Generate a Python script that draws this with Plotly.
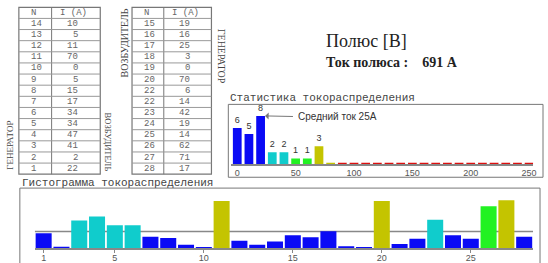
import plotly.graph_objects as go
import numpy as np

W, H = 548, 263

# ---------------- data ----------------
n_left = ["14", "13", "12", "11", "10", "9", "8", "7", "6", "5", "4", "3", "2", "1"]
i_left = [10, 5, 11, 70, 0, 5, 15, 17, 34, 34, 47, 41, 2, 22]
n_right = ["15", "16", "17", "18", "19", "20", "22", "22", "23", "24", "25", "26", "27", "28"]
i_right = [19, 16, 25, 3, 0, 70, 6, 14, 42, 19, 14, 62, 71, 17]

pole_numbers = list(range(1, 29))
pole_currents = i_left[::-1] + i_right

stat_bins = list(range(0, 260, 10))
stat_counts = [6, 5, 8, 2, 2, 1, 1, 3] + [0] * 18

hist_ticks = [1, 5, 10, 15, 20, 25]
stat_ticks = [0, 50, 100, 150, 200, 250]

title_text = "Полюс [B]"
current_label = "Ток полюса :"
stat_title = "Статистика токораспределения"
hist_title = "Гистограмма токораспределения"
mean_label = "Средний ток 25A"


def color_for(v):
    if v < 30:
        return "#0a0af5"
    if v < 50:
        return "#10cccc"
    if v < 70:
        return "#22f222"
    if v < 90:
        return "#c4c400"
    return "#dd1010"


def px(x):
    return x / W


def py(y):
    return 1 - y / H


fig = go.Figure()

# bottom histogram
fig.add_trace(go.Bar(
    x=pole_numbers,
    y=[max(v, 1.2) for v in pole_currents],
    width=0.9,
    marker=dict(color=[color_for(v) for v in pole_currents], line=dict(width=0)),
    xaxis="x", yaxis="y", hoverinfo="skip",
))

# statistics chart
fig.add_trace(go.Bar(
    x=stat_bins,
    y=[max(c, 0.3) for c in stat_counts],
    width=7.5,
    marker=dict(color=[color_for(b) for b in stat_bins], line=dict(width=0)),
    text=[str(c) if c else "" for c in stat_counts],
    textposition="outside",
    textfont=dict(size=9, color="#333", family="Liberation Sans"),
    cliponaxis=False,
    xaxis="x2", yaxis="y2", hoverinfo="skip",
))

axis_font = dict(size=9, color="#555", family="Liberation Sans")

fig.update_layout(
    width=W, height=H,
    margin=dict(l=0, r=0, t=0, b=0),
    paper_bgcolor="white", plot_bgcolor="white",
    showlegend=False,
    xaxis=dict(domain=[px(35), px(537)], range=[0.5, 28.5], tickvals=hist_ticks,
               showline=True, linecolor="#888", linewidth=1.5, ticks="outside",
               ticklen=3, tickcolor="#888", tickfont=axis_font, showgrid=False,
               ticklabelstandoff=-3,
               zeroline=False, anchor="y"),
    yaxis=dict(domain=[py(252), py(192)], range=[0, 87.5], visible=False,
               showgrid=False, zeroline=False, anchor="x"),
    xaxis2=dict(domain=[px(233), px(537)], range=[-5.1, 253.4], tickvals=stat_ticks,
                showline=True, linecolor="#888", linewidth=1.5, ticks="",
                ticklabelstandoff=-1,
                tickfont=axis_font, showgrid=False, zeroline=False, anchor="y2"),
    yaxis2=dict(domain=[py(167), py(106)], range=[0, 9.9], visible=False,
                showgrid=False, zeroline=False, anchor="x2"),
)

shapes = []
annotations = []

# mean line in histogram
mean_val = float(np.mean(pole_currents))
shapes.append(dict(type="line", xref="x", yref="y", x0=0.5, x1=28.5,
                   y0=mean_val, y1=mean_val, layer="below",
                   line=dict(color="#888", width=1.5)))

# chart boxes
shapes.append(dict(type="rect", xref="paper", yref="paper",
                   x0=px(230), x1=px(547), y0=py(180), y1=py(106),
                   line=dict(color="#777", width=1), layer="below"))
shapes.append(dict(type="rect", xref="paper", yref="paper",
                   x0=px(20), x1=px(544), y0=py(275), y1=py(191),
                   line=dict(color="#777", width=1), layer="below"))


def draw_table(x0, xdiv, x1, top, rowh, n_labels, i_values):
    nrows = len(n_labels) + 1
    bottom = top + rowh * nrows
    shapes.append(dict(type="rect", xref="paper", yref="paper",
                       x0=px(x0), x1=px(x1), y0=py(bottom), y1=py(top),
                       line=dict(color="#777", width=1.2)))
    shapes.append(dict(type="line", xref="paper", yref="paper",
                       x0=px(xdiv), x1=px(xdiv), y0=py(bottom), y1=py(top),
                       line=dict(color="#777", width=1)))
    for r in range(1, nrows):
        yy = top + r * rowh
        shapes.append(dict(type="line", xref="paper", yref="paper",
                           x0=px(x0), x1=px(x1), y0=py(yy), y1=py(yy),
                           line=dict(color="#999", width=1)))
    tf = dict(size=9, color="#666", family="Liberation Mono")
    rows = [("N", "I (A)")] + [(n, str(v)) for n, v in zip(n_labels, i_values)]
    for r, (a, b) in enumerate(rows):
        yc = top + (r + 0.5) * rowh
        annotations.append(dict(x=px(x0 + 10), y=py(yc), xref="paper", yref="paper",
                                text=a, showarrow=False, xanchor="left",
                                yanchor="middle", font=tf))
        if r == 0:
            annotations.append(dict(x=px((xdiv + x1) / 2 - 2), y=py(yc), xref="paper",
                                    yref="paper", text=b, showarrow=False,
                                    xanchor="center", yanchor="middle", font=tf))
        else:
            annotations.append(dict(x=px(x1 - 20), y=py(yc), xref="paper", yref="paper",
                                    text=b, showarrow=False, xanchor="right",
                                    yanchor="middle", font=tf))


draw_table(19, 52, 101, 7.4, 11.3, n_left, i_left)
draw_table(133, 165, 213, 7.4, 11.3, n_right, i_right)

serif = "Liberation Serif"
# rotated side labels
annotations.append(dict(x=px(10), y=py(147), xref="paper", yref="paper", text="ГЕНЕРАТОР",
                        textangle=-90, showarrow=False, xanchor="center", yanchor="middle",
                        font=dict(size=9, color="#444", family=serif)))
annotations.append(dict(x=px(109), y=py(144), xref="paper", yref="paper", text="ВОЗБУДИТЕЛЬ",
                        textangle=90, showarrow=False, xanchor="center", yanchor="middle",
                        font=dict(size=8.5, color="#444", family=serif)))
annotations.append(dict(x=px(125), y=py(44), xref="paper", yref="paper", text="ВОЗБУДИТЕЛЬ",
                        textangle=-90, showarrow=False, xanchor="center", yanchor="middle",
                        font=dict(size=10, color="#444", family=serif)))
annotations.append(dict(x=px(223), y=py(57), xref="paper", yref="paper", text="ГЕНЕРАТОР",
                        textangle=90, showarrow=False, xanchor="center", yanchor="middle",
                        font=dict(size=10, color="#444", family=serif)))

# titles
annotations.append(dict(x=px(326), y=py(42), xref="paper", yref="paper", text=title_text,
                        showarrow=False, xanchor="left", yanchor="middle",
                        font=dict(size=18, color="#222", family=serif)))
annotations.append(dict(x=px(326), y=py(63), xref="paper", yref="paper",
                        text=f"<b>{current_label}</b>&nbsp;&nbsp;&nbsp;&nbsp;<b>{sum(pole_currents)} A</b>",
                        showarrow=False, xanchor="left", yanchor="middle",
                        font=dict(size=14, color="#222", family=serif)))
annotations.append(dict(x=px(230), y=py(100), xref="paper", yref="paper", text=stat_title,
                        showarrow=False, xanchor="left", yanchor="middle",
                        font=dict(size=11, color="#444", family="Liberation Mono")))
annotations.append(dict(x=px(20), y=py(186), xref="paper", yref="paper", text=hist_title,
                        showarrow=False, xanchor="left", yanchor="middle",
                        font=dict(size=11, color="#444", family="Liberation Mono")))

# mean annotation: arrow pointing at the tallest bar, label to its right
arrow_tail = 49.0
annotations.append(dict(x=stat_bins[2] + 3.8, y=stat_counts[2], xref="x2", yref="y2",
                        text="", showarrow=True, arrowhead=1, arrowsize=1.2,
                        arrowwidth=1, arrowcolor="#777",
                        axref="x2", ayref="y2", ax=arrow_tail, ay=stat_counts[2] - 0.1))
annotations.append(dict(x=arrow_tail + 1.5, y=stat_counts[2] - 0.1, xref="x2", yref="y2",
                        text=mean_label, showarrow=False, xanchor="left", yanchor="middle",
                        font=dict(size=10, color="#333", family="Liberation Sans")))

fig.update_layout(shapes=shapes, annotations=annotations)
fig.write_html(
    "out.html",
    config={"displayModeBar": False},
    post_script="document.body.style.margin='0';document.body.style.overflow='hidden';",
)
